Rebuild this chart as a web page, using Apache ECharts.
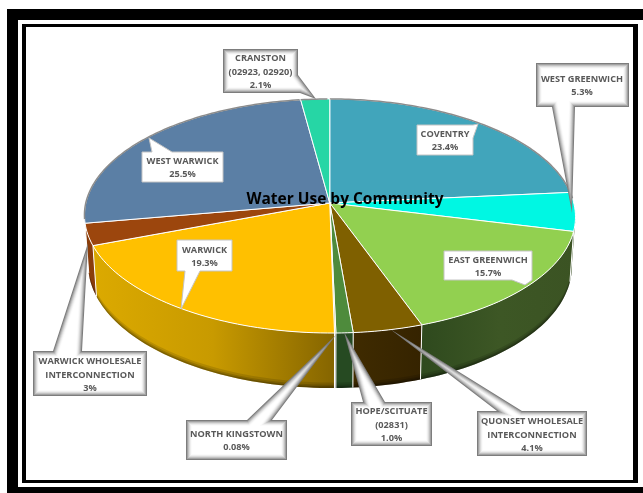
<!DOCTYPE html>
<html><head><meta charset="utf-8">
<style>html,body{margin:0;padding:0;background:#fff}#c{width:643px;height:493px}</style>
<script src="https://cdn.jsdelivr.net/npm/echarts@6/dist/echarts.min.js"></script>
</head><body><div id="c"></div>
<script>
const titleText = 'Water Use by Community';
const communities = ['COVENTRY','WEST GREENWICH','EAST GREENWICH','QUONSET WHOLESALE\nINTERCONNECTION','HOPE/SCITUATE\n(02831)','NORTH KINGSTOWN','WARWICK','WARWICK WHOLESALE\nINTERCONNECTION','WEST WARWICK','CRANSTON\n(02923, 02920)'];
const shares = [23.4,5.3,15.7,4.1,1.0,0.08,19.3,3,25.5,2.1];
const shareLabels = ['23.4%','5.3%','15.7%','4.1%','1.0%','0.08%','19.3%','3%','25.5%','2.1%'];

const topColors = ['#41a5bb','#00f7e3','#92d050','#7f6000','#4e8b3c','#8f8f40','#ffc000','#9c460d','#5b7fa5','#26d6a5'];
const wallColors = ['#2a7080','#3b5323','#3b5323','#3a2800','#264a22','#555','#c89a00','#8a3d0b','#3d5670','#1a9070'];

const G = {cx:329.75, cy:203, a:244, b:115.6, k:0.111, h:48.9, bx:0.985, shear:2};
const total = shares.reduce((s,v)=>s+v,0);
const startAngle = [];
shares.reduce((s,v,i)=>{startAngle[i]=s/total*360;return s+v;},0);
const rad = d=>d*Math.PI/180;
function topPt(deg){const u=Math.sin(rad(deg)),v=-Math.cos(rad(deg)),d=1-G.k*v;
  return [G.cx+G.a*u/d+G.shear*Math.max(v,0), G.cy+G.b*v/d];}
function wallPt(deg,f){const u=Math.sin(rad(deg)),v=-Math.cos(rad(deg)),d=1-G.k*v;
  const sx=1-(1-G.bx)*f;
  return [G.cx+sx*G.a*u/d+G.shear*Math.max(v,0), G.cy+G.b*v/d+f*G.h/d];}
function arc(fn,a0,a1,extra){const n=Math.max(2,Math.ceil(Math.abs(a1-a0)/1.5)),p=[];
  for(let i=0;i<=n;i++)p.push(fn(a0+(a1-a0)*i/n,extra));return p;}
const VIS0=96.4, VIS1=263.6;

function renderWall(params,api){
  const i=params.dataIndex, s=startAngle[i], e=s+api.value(0)/total*360;
  const a0=Math.max(s,VIS0), a1=Math.min(e,VIS1);
  if(a1<=a0) return {type:'group',children:[]};
  const edge=arc(wallPt,a0,a1,0), base=arc(wallPt,a0,a1,1);
  const fill = i===6 ? {type:'linear',x:90,y:0,x2:336,y2:0,global:true,colorStops:[{offset:0,color:'#dcaa00'},{offset:.5,color:'#c89a00'},{offset:1,color:'#846400'}]}
    : i===3 ? {type:'linear',x:354,y:0,x2:424,y2:0,global:true,colorStops:[{offset:0,color:'#3f2b00'},{offset:1,color:'#352300'}]}
    : i===2 ? {type:'linear',x:424,y:0,x2:575,y2:0,global:true,colorStops:[{offset:0,color:'#2f4a1e'},{offset:.5,color:'#3d5725'},{offset:1,color:'#3b5323'}]}
    : wallColors[i];
  const kids=[{type:'polygon',shape:{points:edge.concat(base.slice().reverse())},style:{fill}}];
  [[.9,.12],[.94,.15],[.97,.2]].forEach(([f,al])=>{
    const up=arc(wallPt,a0,a1,f), lo=arc(wallPt,a0,a1,1);
    kids.push({type:'polygon',shape:{points:up.concat(lo.reverse())},style:{fill:'rgba(0,0,0,'+al+')'}});
  });
  if(s>=VIS0) kids.push({type:'line',shape:{x1:edge[0][0],y1:edge[0][1],x2:base[0][0],y2:base[0][1]},style:{stroke:'#fff',lineWidth:1}});
  return {type:'group',children:kids};
}
function renderTop(params,api){
  const i=params.dataIndex, s=startAngle[i], e=s+api.value(0)/total*360;
  const rim=arc(topPt,s,e);
  const pts=[[G.cx,G.cy]].concat(rim);
  const kids=[{type:'polygon',shape:{points:pts},style:{fill:topColors[i],stroke:'#fff',lineWidth:1,lineJoin:'round'}}];
  const back=[];
  for(let d=s;d<=e+.01;d+=1){const t=Math.min(d,e);if(t<=88||t>=262)back.push(topPt(t));}
  if(back.length>1) kids.push({type:'polyline',shape:{points:back},style:{stroke:'#8c8c8c',lineWidth:1.5,fill:null}});
  return {type:'group',children:kids};
}

/* Callout layout: outline vertices clockwise, and the label centre */
const calloutLayout = [
 {plain:true, o:[[417,125],[473,125],[478,124],[473,138],[473,155],[417,155]], c:[445,140]},
 {o:[[536,63],[629,63],[629,107],[575,107],[572,213],[552,107],[536,107]], c:[582,85]},
 {plain:true, o:[[444,251],[532,251],[532,280],[525,285],[512,280],[444,280]], c:[488,266]},
 {o:[[477,411],[497,411],[390,329],[522,411],[587,411],[587,456],[477,456]], c:[532,434]},
 {o:[[351,402],[363,402],[344,332],[385,402],[432,402],[432,446],[351,446]], c:[391.5,424]},
 {o:[[186,420],[247,420],[336,335],[272,420],[287,420],[287,460],[186,460]], c:[236.5,440]},
 {plain:true, o:[[177,240],[232,240],[232,271],[200,271],[181,309],[185,271],[177,271]], c:[204.5,256]},
 {o:[[33,351],[53,351],[88,243],[82,351],[147,351],[147,396],[33,396]], c:[90,374]},
 {plain:true, o:[[142,152],[152,152],[149,138],[172,152],[223,152],[223,182],[142,182]], c:[182.5,166.5]},
 {o:[[223,49],[298,49],[298,75],[316,99],[300,93],[223,93]], c:[260.5,71]}
];

function inset(poly,d){
  const n=poly.length,out=[];
  for(let i=0;i<n;i++){
    const p0=poly[(i+n-1)%n],p1=poly[i],p2=poly[(i+1)%n];
    const d1=[p1[0]-p0[0],p1[1]-p0[1]],d2=[p2[0]-p1[0],p2[1]-p1[1]];
    const l1=Math.hypot(d1[0],d1[1]),l2=Math.hypot(d2[0],d2[1]);
    const n1=[-d1[1]/l1,d1[0]/l1],n2=[-d2[1]/l2,d2[0]/l2];
    const A=[p0[0]+n1[0]*d,p0[1]+n1[1]*d],B=[p1[0]+n2[0]*d,p1[1]+n2[1]*d];
    const det=d1[0]*d2[1]-d1[1]*d2[0];
    if(Math.abs(det)<1e-6){out.push([p1[0]+n1[0]*d,p1[1]+n1[1]*d]);continue;}
    const t=((B[0]-A[0])*d2[1]-(B[1]-A[1])*d2[0])/det;
    out.push([A[0]+d1[0]*t,A[1]+d1[1]*t]);
  }
  return out;
}
const glowShades=['#7d7d7d','#a2a2a2','#c2c2c2','#dcdcdc','#efefef','#fbfbfb','#ffffff'];
function renderCallout(params){
  const i=params.dataIndex, L=calloutLayout[i], kids=[];
  if(L.plain){
    kids.push({type:'polygon',shape:{points:L.o},style:{fill:'#fff',stroke:'#c4c4c4',lineWidth:1}});
  } else {
    glowShades.forEach((c,k)=>kids.push({type:'polygon',shape:{points:inset(L.o,k)},style:{fill:c}}));
  }
  kids.push({type:'text',style:{text:communities[i]+'\n'+shareLabels[i],x:L.c[0],y:L.c[1]+1,align:'center',verticalAlign:'middle',
    fill:'#595959',font:'bold 9.2px "Open Sans"',lineHeight:13.2}});
  return {type:'group',children:kids};
}
const items=shares.map((v,i)=>({name:communities[i],value:[v]}));
const frame=(x,y,w,h,c)=>({type:'rect',shape:{x,y,width:w,height:h},style:{fill:c},silent:true});
const chart=echarts.init(document.getElementById('c'),null,{renderer:'canvas'});
chart.setOption({
  animation:false,
  backgroundColor:'#fff',
  title:{text:titleText,left:340,top:195,textAlign:'center',textVerticalAlign:'middle',
    textStyle:{fontFamily:'"Open Sans"',fontWeight:'bold',fontSize:15.5,color:'#000'}},
  graphic:{elements:[
    frame(7,9,636,484,'#000'),
    frame(18,20,625,467,'#fff'),
    frame(22,24,616,459,'#000'),
    frame(26,27,607,453,'#fff')
  ].map(e=>Object.assign(e,{z:-10}))},
  series:[
    {type:'custom',coordinateSystem:'none',z:2,renderItem:renderWall,data:items,silent:true},
    {type:'custom',coordinateSystem:'none',z:3,renderItem:renderTop,data:items,silent:true},
    {type:'custom',coordinateSystem:'none',z:4,renderItem:renderCallout,data:items,silent:true}
  ]
});
</script></body></html>
